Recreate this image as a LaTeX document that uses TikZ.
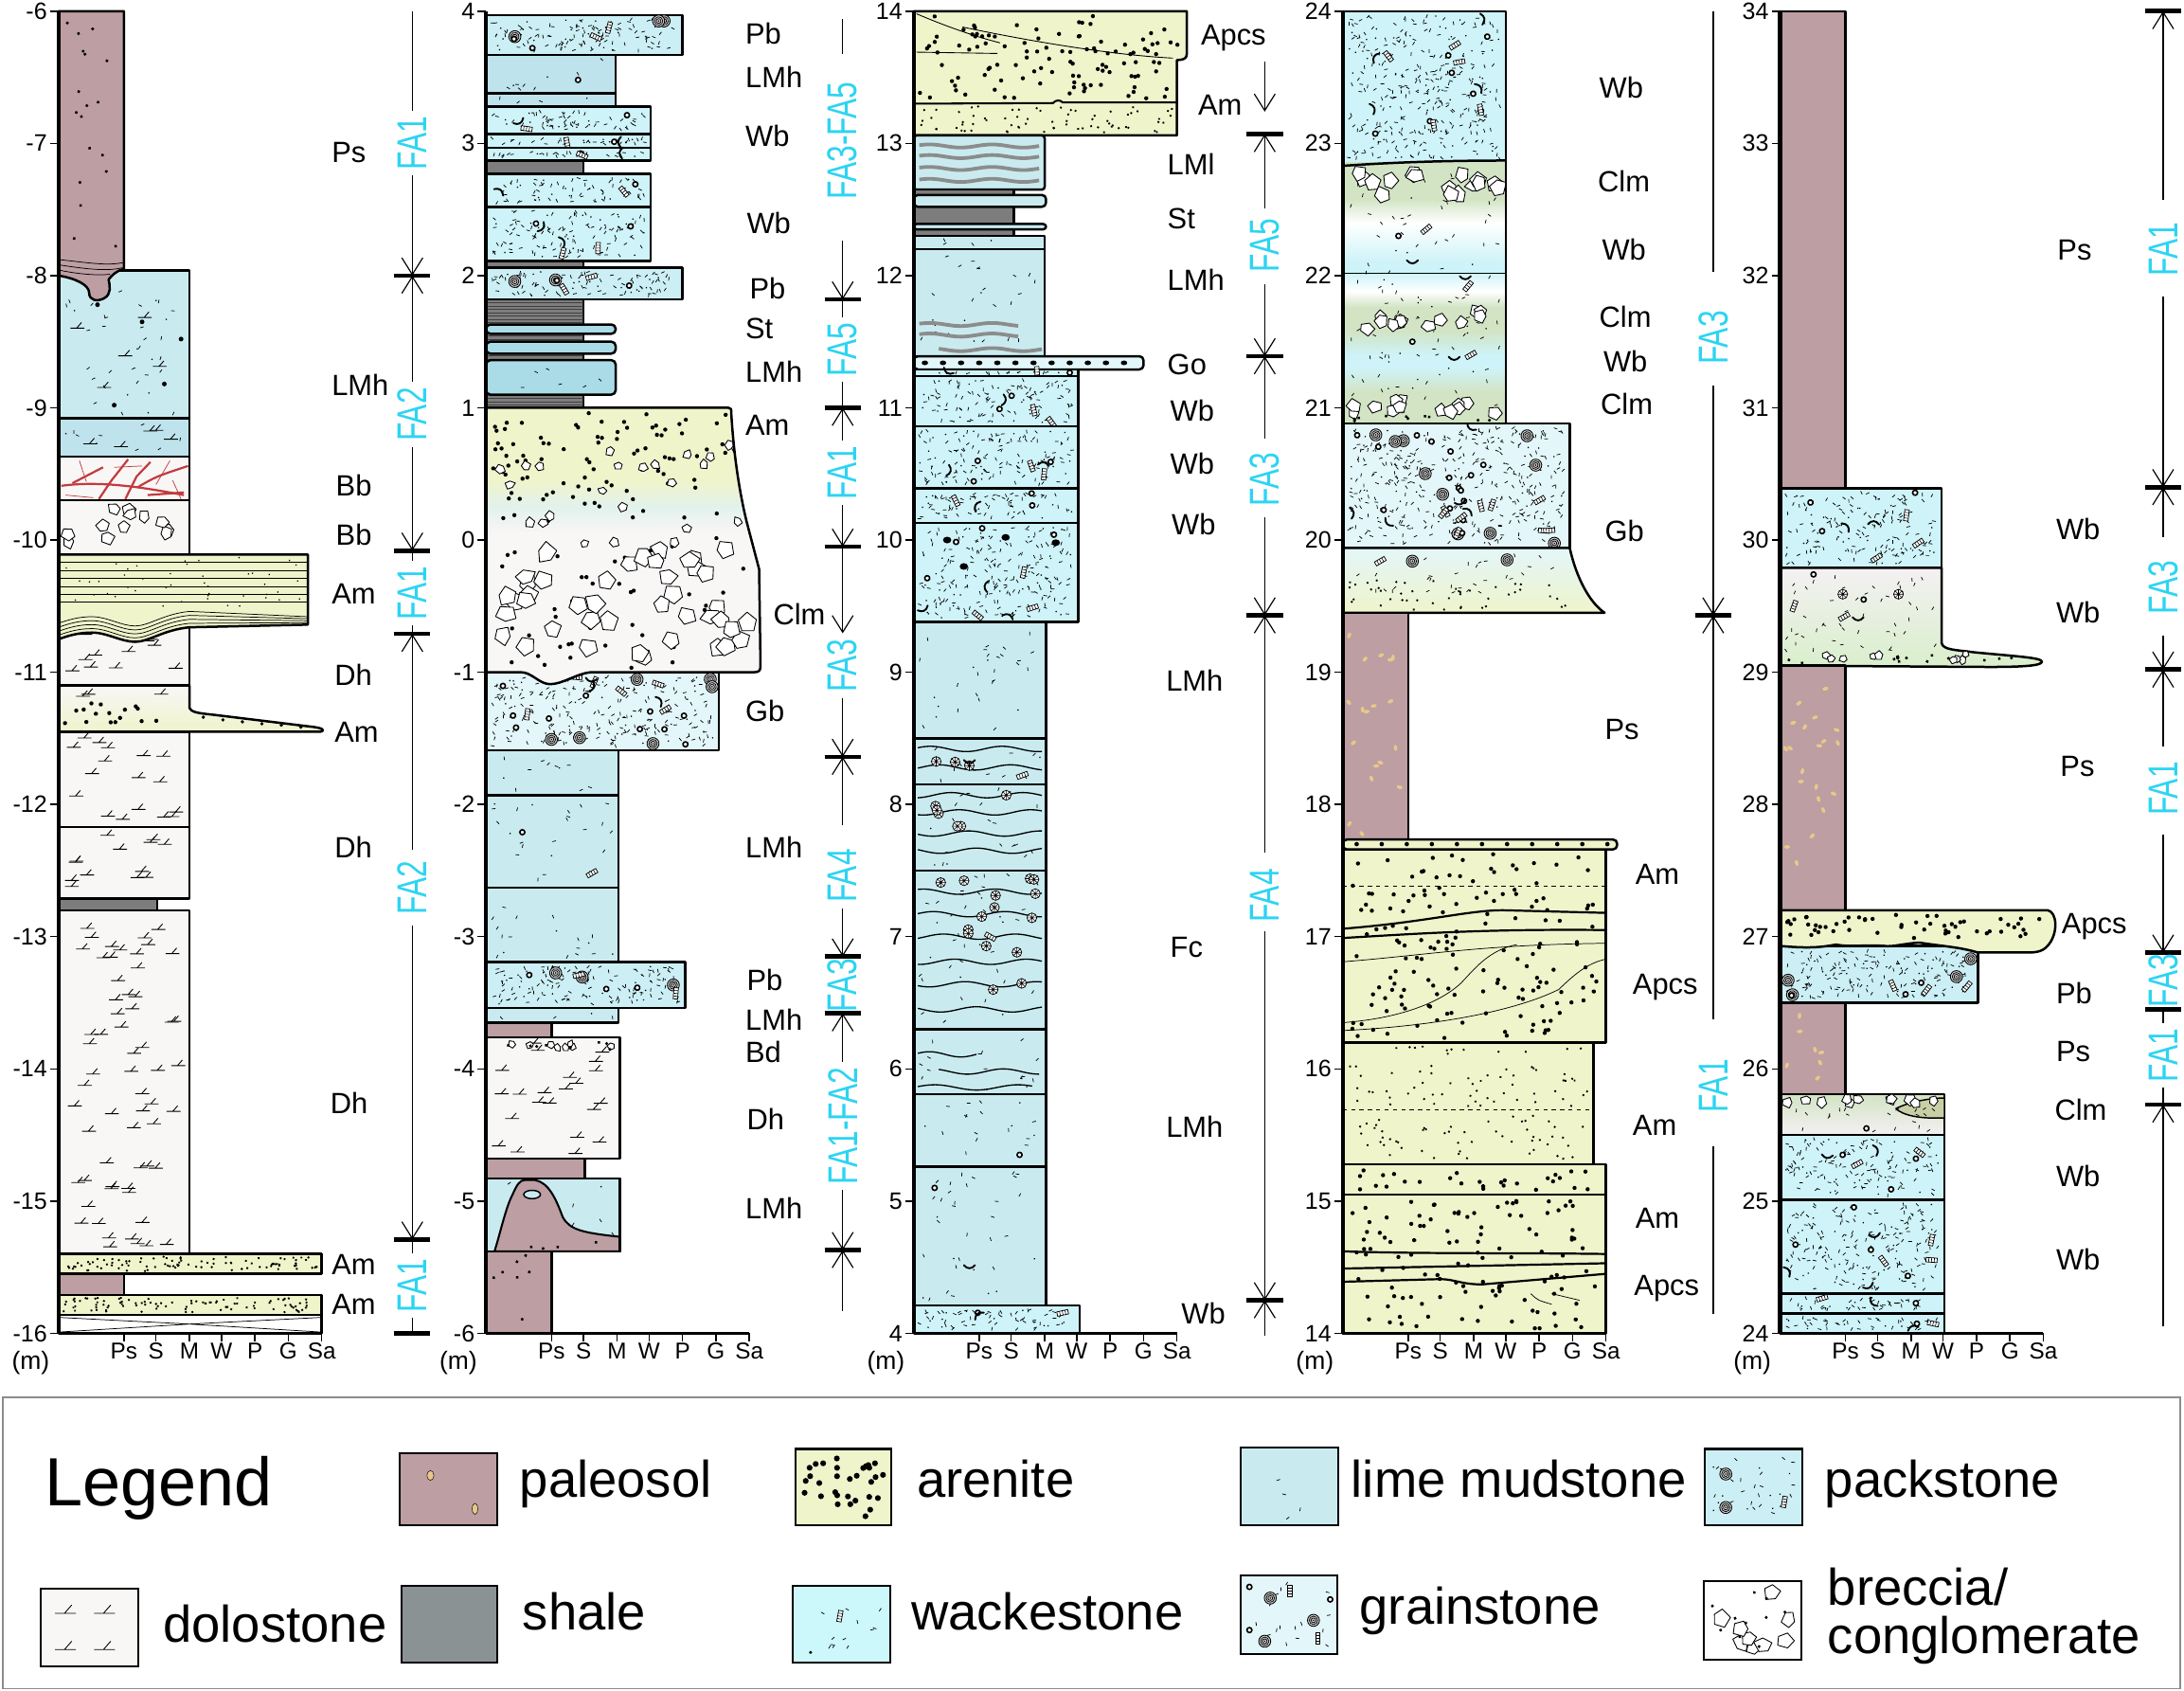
\documentclass[tikz,border=0pt]{standalone}
\usepackage{fontspec}
\setmainfont{Liberation Sans}
\newfontfamily\fafont[FakeStretch=0.72]{Liberation Sans}
\usetikzlibrary{arrows.meta}
\definecolor{paleo}{HTML}{BC9EA3}
\definecolor{aren}{HTML}{EFF4CB}
\definecolor{lmud}{HTML}{C9EBF0}
\definecolor{lmudb}{HTML}{BFE3EC}
\definecolor{lmudc}{HTML}{A9DCE6}
\definecolor{wack}{HTML}{CEF3F8}
\definecolor{pack}{HTML}{CBEFF5}
\definecolor{grain}{HTML}{E3F6F9}
\definecolor{dolo}{HTML}{F9F6F6}
\definecolor{shale}{HTML}{7D7D7D}
\definecolor{lshale}{HTML}{8A9294}
\definecolor{vein}{HTML}{C23B3E}
\definecolor{gre}{HTML}{D2E4C4}
\definecolor{olive}{HTML}{C8CFA6}
\definecolor{speckc}{HTML}{E8C889}
\definecolor{facyan}{HTML}{2DD4F2}
\definecolor{legwack}{HTML}{CCF7FB}
\definecolor{pinkw}{HTML}{F4F0F3}
\definecolor{clmmid}{HTML}{E2F2EC}
\definecolor{greb}{HTML}{D9EFCB}
\tikzset{
 lyr/.style={draw=black, line width=1.7pt, line join=round},
 axisl/.style={line width=2.8pt},
 basel/.style={line width=2.3pt},
 tickl/.style={line width=1pt},
 ticklab/.style={font=\fontsize{17}{17}\selectfont, anchor=east, inner sep=0pt},
 grainlab/.style={font=\fontsize{16.5}{17}\selectfont, inner sep=0pt},
 faclab/.style={font=\fontsize{21}{21}\selectfont, anchor=west, inner sep=0pt},
 falab/.style={font=\fafont\fontsize{30}{30}\selectfont, text=facyan, rotate=90, inner sep=0pt, outer sep=4pt},
 faline/.style={line width=0.8pt},
 faarr/.style={line width=0.8pt, -{Straight Barb[length=12pt,width=15pt]}},
 fabar/.style={line width=3.2pt},
 clastst/.style={draw=black, fill=white, line width=0.6pt, line join=round},
 legbox/.style={draw=black, line width=1.4pt},
 leglab/.style={font=\fontsize{37}{37}\selectfont, anchor=base west, inner sep=0pt},
 pdolo/.pic={\draw[line width=0.6pt] (-5pt,0pt) -- (5pt,0pt) (-0.5pt,0pt) -- (3pt,4pt);},
 pspk/.pic={\draw[line width=0.5pt] (-1.3pt,0pt) -- (1.3pt,0pt);},
 pdot/.pic={\fill (0pt,0pt) circle (0.6pt);},
 pblk/.pic={\fill (0pt,0pt) circle (1.2pt);},
 pyel/.pic={\fill[speckc] (0pt,0pt) ellipse (2.2pt and 1.3pt);},
 pnone/.pic={},
 pad/.pic={\fill (0pt,0pt) circle (1.5pt);},
 pads/.pic={\fill (0pt,0pt) circle (0.9pt);},
 plegdot/.pic={\fill (0pt,0pt) circle (2.1pt);},
 poo/.pic={\filldraw[fill=white,line width=1.1pt] (0pt,0pt) circle (1.8pt);},
 pforam/.pic={\filldraw[fill=gray!35,line width=0.6pt] (0pt,0pt) circle (4.3pt); \draw[line width=0.5pt] (0pt,0pt) circle (3pt) (0pt,0pt) circle (1.7pt); \fill (0pt,0pt) circle (0.6pt);},
 pcrin/.pic={\draw[line width=0.5pt, fill=white] (-4pt,-1.6pt) rectangle (4pt,1.6pt); \draw[line width=0.4pt] (-2pt,-1.6pt) -- (-2pt,1.6pt) (0pt,-1.6pt) -- (0pt,1.6pt) (2pt,-1.6pt) -- (2pt,1.6pt);},
 pshell/.pic={\draw[line width=1.3pt, line cap=round] (-4pt,1.5pt) .. controls (-1.5pt,-1.5pt) and (1.5pt,-1.5pt) .. (4pt,1.5pt);},
 pradf/.pic={\draw[line width=0.5pt, fill=white] (0pt,0pt) circle (3.5pt); \draw[line width=0.4pt] (-3.5pt,0pt) -- (3.5pt,0pt) (0pt,-3.5pt) -- (0pt,3.5pt) (-2.5pt,-2.5pt) -- (2.5pt,2.5pt) (-2.5pt,2.5pt) -- (2.5pt,-2.5pt);}
}
\newcommand\rpic[6]{\foreach \i in {1,...,#2}{\pic[rotate={rnd*360}] at ({(#3)+rnd*((#4)-(#3))},{(#5)+rnd*((#6)-(#5))}) {#1};}}
\newcommand\rpicn[6]{\foreach \i in {1,...,#2}{\pic at ({(#3)+rnd*((#4)-(#3))},{(#5)+rnd*((#6)-(#5))}) {#1};}}
\newcommand\rclast[6]{\foreach \i in {1,...,#1}{\pgfmathsetmacro\ra{rnd*70}\begin{scope}[shift={({(#3)+rnd*((#4)-(#3))},{(#5)+rnd*((#6)-(#5))})},x=1pt,y=1pt]\draw[clastst] (\ra:{#2*(0.7+0.5*rnd)}) -- ({\ra+72}:{#2*(0.7+0.5*rnd)}) -- ({\ra+144}:{#2*(0.7+0.5*rnd)}) -- ({\ra+216}:{#2*(0.7+0.5*rnd)}) -- ({\ra+288}:{#2*(0.7+0.5*rnd)}) -- cycle;\end{scope}}}
\newcommand\fillsyms[5]{\pgfmathtruncatemacro\cnt{max(1,round(((#1)-8)/(#5)*((#2)-(#3))*94.9))}\rpic{#4}{\cnt}{4}{(#1)-4}{(#3)+0.03}{(#2)-0.03}}
\newcommand\Lmud[4][lmud]{\filldraw[lyr,fill=#1] (0,#4) rectangle (#2,#3);\fillsyms{#2}{#3}{#4}{pspk}{320}\fillsyms{#2}{#3}{#4}{pdot}{1200}}
\newcommand\Wack[3]{\filldraw[lyr,fill=wack] (0,#3) rectangle (#1,#2);\fillsyms{#1}{#2}{#3}{pspk}{45}\fillsyms{#1}{#2}{#3}{pdot}{160}\fillsyms{#1}{#2}{#3}{poo}{1800}\fillsyms{#1}{#2}{#3}{pcrin}{2400}\fillsyms{#1}{#2}{#3}{pshell}{2800}}
\newcommand\Pack[3]{\filldraw[lyr,fill=pack] (0,#3) rectangle (#1,#2);\fillsyms{#1}{#2}{#3}{pspk}{40}\fillsyms{#1}{#2}{#3}{pdot}{140}\fillsyms{#1}{#2}{#3}{pforam}{1500}\fillsyms{#1}{#2}{#3}{poo}{1600}\fillsyms{#1}{#2}{#3}{pcrin}{2000}}
\newcommand\Grain[3]{\filldraw[lyr,fill=grain] (0,#3) rectangle (#1,#2);\fillsyms{#1}{#2}{#3}{pspk}{45}\fillsyms{#1}{#2}{#3}{pdot}{160}\fillsyms{#1}{#2}{#3}{pforam}{1400}\fillsyms{#1}{#2}{#3}{poo}{900}\fillsyms{#1}{#2}{#3}{pcrin}{1600}\fillsyms{#1}{#2}{#3}{pshell}{2600}}
\newcommand\Dolo[3]{\filldraw[lyr,fill=dolo] (0,#3) rectangle (#1,#2);\pgfmathtruncatemacro\cnt{max(1,round(((#1)-12)/330*((#2)-(#3))*94.9))}\rpicn{pdolo}{\cnt}{8}{(#1)-8}{(#3)+0.04}{(#2)-0.04}}
\newcommand\Paleo[4][pblk]{\filldraw[lyr,fill=paleo] (0,#4) rectangle (#2,#3);\fillsyms{#2}{#3}{#4}{#1}{350}}
\newcommand\Shale[3]{\filldraw[lyr,fill=shale] (0,#3) rectangle (#1,#2);}
\newcommand\colaxis[3]{%
 \foreach \t in {#2,...,#3}{\draw[tickl] (-6,\t) -- (0,\t); \node[ticklab] (#1n\t) at (-8,\t) {\t};}
 \draw[basel] (0,#2) -- (189,#2);
 \foreach \g/\n in {47/Ps,70/S,94/M,117/W,141/P,165/G,189/Sa}{\draw[tickl] (\g,#2) -- ++(0pt,-6pt); \node[grainlab] (#1g\n) at ([yshift=-13pt]\g,#2) {\n};}
 \draw[axisl] (0,#3) -- (0,#2);
 \node[grainlab, font=\fontsize{18}{18}\selectfont] (#1m) at ([yshift=-21pt]-20,#2) {(m)};}
\newcommand\fabarat[3]{\coordinate (#1) at (#2,#3); \draw[fabar] ([xshift=-13pt]#1) -- ([xshift=13pt]#1);}
\newcommand\falabel[4]{\node[falab] (#1) at (#2,#3) {#4};}
\newcommand\lab[4]{\node[faclab] (#1) at (#2,#3) {#4};}
\begin{document}
\begin{tikzpicture}[x=1pt,y=-1pt]
\pgfmathsetseed{11}
\useasboundingbox (0,0) rectangle (1568,1213.7);
%================ COLUMN 1
\begin{scope}[shift={(42pt,561.4pt)},x=1pt,y=94.9pt]
\Lmud{94}{-7.96}{-9.08}
\rpicn{pdolo}{5}{10}{85}{-8.9}{-8.2}
\foreach \p in {(28,-8.22),(88,-8.48),(76,-8.82),(40,-8.98),(60,-8.35)}{\fill \p circle (1.7pt);}
\Lmud[lmudb]{94}{-9.08}{-9.37}
\rpicn{pdolo}{5}{10}{85}{-9.32}{-9.14}
\filldraw[lyr,fill=dolo] (0,-9.70) rectangle (94,-9.37);
\begin{scope}
\clip (0,-9.70) rectangle (94,-9.37);
\draw[vein,line width=1.5pt] (2,-9.59) .. controls (30,-9.55) and (60,-9.60) .. (90,-9.66);
\draw[vein,line width=1.5pt] (29,-9.69) -- (38,-9.55) -- (50,-9.39) (48,-9.69) -- (56,-9.52) -- (66,-9.41) (57,-9.60) .. controls (70,-9.52) .. (93,-9.44) (10,-9.57) -- (32,-9.45) (64,-9.66) -- (90,-9.64);
\draw[vein,line width=0.5pt] (15,-9.40) -- (20,-9.56) (70,-9.58) -- (80,-9.40) (5,-9.66) -- (25,-9.68) (40,-9.45) -- (60,-9.44) (82,-9.55) -- (88,-9.69);
\end{scope}
\draw[lyr] (0,-9.70) rectangle (94,-9.37);
\filldraw[lyr,fill=dolo] (0,-10.11) rectangle (94,-9.70);
\rclast{12}{5}{7}{87}{-10.05}{-9.76}
\Dolo{94}{-10.65}{-11.10}
\filldraw[lyr,fill=aren] (0,-10.11) -- (179,-10.11) -- (179,-10.64) -- (94,-10.66) .. controls (75,-10.68) and (65,-10.77) .. (55,-10.77) .. controls (45,-10.77) and (35,-10.70) .. (24,-10.70) .. controls (15,-10.70) and (8,-10.72) .. (0,-10.75) -- cycle;
\foreach \k in {-10.17,-10.23,-10.29,-10.35,-10.41,-10.47}{\draw[line width=0.5pt] (0,\k) -- (179,\k);}
\foreach \k in {0.03,0.06,0.09,0.12}{\draw[line width=0.5pt] (0,{-10.75+\k}) .. controls (8,{-10.72+\k}) and (15,{-10.70+\k}) .. (24,{-10.70+\k}) .. controls (35,{-10.70+\k}) and (45,{-10.77+\k}) .. (55,{-10.77+\k}) .. controls (65,{-10.77+\k}) and (75,{-10.68+\k}) .. (94,{-10.66+\k}) -- (179,{-10.64+0.5*\k});}
\rpic{pdot}{45}{3}{175}{-10.5}{-10.13}
\draw[lyr, top color=dolo, bottom color=aren] (0,-11.10) -- (94,-11.10) -- (94,-11.27) .. controls (95,-11.30) and (100,-11.31) .. (110,-11.32) -- (180,-11.41) .. controls (190,-11.42) and (192,-11.44) .. (188,-11.45) -- (0,-11.45) -- cycle;
\rpic{pad}{16}{4}{90}{-11.42}{-11.22}
\rpicn{pdolo}{3}{10}{85}{-11.2}{-11.14}
\foreach \p in {(104,-11.34),(118,-11.36),(132,-11.375),(146,-11.39),(160,-11.40),(174,-11.415)}{\fill \p circle (1.3pt);}
\Dolo{94}{-11.45}{-12.17}
\Dolo{94}{-12.17}{-12.71}
\Shale{71}{-12.71}{-12.80}
\Dolo{94}{-12.80}{-15.40}
\filldraw[lyr,fill=aren] (0,-15.55) rectangle (189,-15.40);
\rpic{pads}{95}{3}{186}{-15.53}{-15.42}
\Paleo[pnone]{47}{-15.55}{-15.71}
\filldraw[lyr,fill=aren] (0,-15.86) rectangle (189,-15.71);
\rpic{pads}{95}{3}{186}{-15.84}{-15.73}
\filldraw[lyr,fill=white] (0,-16) rectangle (189,-15.86);
\draw[line width=0.5pt] (1,-15.88) -- (94,-15.93) -- (188,-15.88) (1,-15.99) -- (94,-15.93) -- (188,-15.99);
\filldraw[lyr,fill=paleo] (0,-6) -- (47,-6) -- (47,-7.95) .. controls (42,-7.96) and (38,-8.0) .. (36,-8.03) .. controls (37,-8.08) and (38,-8.14) .. (33,-8.17) .. controls (28,-8.2) and (22,-8.19) .. (22,-8.13) .. controls (22,-8.07) and (12,-8.02) .. (0,-8.0) -- cycle;
\rpic{pblk}{18}{5}{42}{-7.8}{-6.05}
\draw[line width=0.5pt] (1,-7.88) .. controls (20,-7.9) and (35,-7.93) .. (47,-7.9) (1,-7.92) .. controls (20,-7.95) and (35,-7.97) .. (46,-7.94) (1,-7.96) .. controls (15,-7.99) and (28,-8.0) .. (37,-7.99);
\colaxis{c1}{-16}{-6}
\lab{c1l1}{196}{-7.07}{Ps}
\lab{c1l2}{196}{-8.83}{LMh}
\lab{c1l3}{199}{-9.59}{Bb}
\lab{c1l4}{199}{-9.96}{Bb}
\lab{c1l5}{196}{-10.41}{Am}
\lab{c1l6}{198}{-11.02}{Dh}
\lab{c1l7}{198}{-11.45}{Am}
\lab{c1l8}{198}{-12.32}{Dh}
\lab{c1l9}{195}{-14.26}{Dh}
\lab{c1l10}{196}{-15.48}{Am}
\lab{c1l11}{196}{-15.78}{Am}
\coordinate (c1t) at (254,-6.0);
\falabel{c1f1}{254}{-7.0}{FA1}
\fabarat{c1b1}{254}{-8.0}
\draw[faline] (c1t) -- (c1f1);
\draw[faarr] (c1f1) -- (c1b1);
\falabel{c1f2}{254}{-9.05}{FA2}
\fabarat{c1b2}{254}{-10.08}
\draw[faarr] (c1f2) -- (c1b1);
\draw[faarr] (c1f2) -- (c1b2);
\falabel{c1f3}{254}{-10.40}{FA1}
\fabarat{c1b3}{254}{-10.71}
\draw[faline] (c1f3) -- (c1b2);
\draw[faline] (c1f3) -- (c1b3);
\falabel{c1f4}{254}{-12.63}{FA2}
\fabarat{c1b4}{254}{-15.29}
\draw[faarr, shorten <=4pt] (c1f4) -- (c1b3);
\draw[faarr, shorten <=4pt] (c1f4) -- (c1b4);
\falabel{c1f5}{254}{-15.64}{FA1}
\fabarat{c1b5}{254}{-16.0}
\draw[faline] (c1f5) -- (c1b4);
\draw[faline] (c1f5) -- (c1b5);
\end{scope}
%================ COLUMN 2
\begin{scope}[shift={(349pt,-387.6pt)},x=1pt,y=94.9pt]
\Pack{141}{3.97}{3.67}
\Lmud[lmudb]{93}{3.67}{3.38}
\pic at (66,3.48) {poo};
\Lmud[lmudb]{93}{3.38}{3.28}
\Wack{118}{3.28}{3.07}
\Wack{118}{3.07}{2.965}
\Wack{118}{2.965}{2.87}
\Shale{70}{2.87}{2.77}
\Wack{118}{2.77}{2.52}
\Wack{118}{2.52}{2.11}
\Shale{70}{2.11}{2.06}
\Pack{141}{2.06}{1.82}
\filldraw[lyr,fill=shale] (0,1.0) rectangle (70,1.82);
\foreach \k in {1.02,1.045,...,1.80}{\draw[line width=0.4pt, black!75] (0,\k) -- (70,\k);}
\filldraw[lyr,fill=lmudc,rounded corners=3pt] (0,1.56) rectangle (93,1.63);
\filldraw[lyr,fill=lmudc,rounded corners=3pt] (0,1.41) rectangle (93,1.50);
\filldraw[lyr,fill=lmudc,rounded corners=3pt] (0,1.10) rectangle (93,1.36);
\rpic{pspk}{6}{5}{88}{1.15}{1.32}
\draw[axisl] (0,1.0) -- (0,1.82);
\Grain{167}{-1.0}{-1.59}
\begin{scope}
\clip (0,1.0) -- (174,1.0) .. controls (176,1.0) and (176,0.99) .. (176,0.96) .. controls (178,0.6) and (183,0.3) .. (188,0.1) -- (196,-0.22) -- (197,-0.95) .. controls (197,-0.99) and (196,-1.0) .. (192,-1.0) -- (75,-1.0) .. controls (65,-1.01) and (55,-1.09) .. (46,-1.09) .. controls (38,-1.09) and (33,-1.0) .. (25,-1.0) -- (0,-1.0) -- cycle;
\fill[dolo] (0,-1.1) rectangle (200,1.0);
\fill[aren] (0,0.45) rectangle (200,1.0);
\shade[top color=aren, bottom color=dolo, middle color=clmmid] (0,0.05) rectangle (200,0.45);
\rpic{pad}{90}{5}{172}{0.15}{0.96}
\rpic{pad}{45}{5}{192}{-0.97}{0.15}
\rclast{24}{3.5}{8}{182}{-0.05}{0.72}
\rclast{42}{7}{10}{190}{-0.93}{-0.05}
\end{scope}
\draw[lyr] (0,1.0) -- (174,1.0) .. controls (176,1.0) and (176,0.99) .. (176,0.96) .. controls (178,0.6) and (183,0.3) .. (188,0.1) -- (196,-0.22) -- (197,-0.95) .. controls (197,-0.99) and (196,-1.0) .. (192,-1.0) -- (75,-1.0) .. controls (65,-1.01) and (55,-1.09) .. (46,-1.09) .. controls (38,-1.09) and (33,-1.0) .. (25,-1.0) -- (0,-1.0);
\Lmud{95}{-1.59}{-1.93}
\Lmud{95}{-1.93}{-2.63}
\pic at (26,-2.21) {poo};
\pic[rotate=30] at (76,-2.52) {pcrin};
\Lmud{95}{-2.63}{-3.19}
\Pack{143}{-3.19}{-3.54}
\Lmud{95}{-3.54}{-3.65}
\Paleo[pnone]{47}{-3.65}{-3.76}
\Dolo{96}{-3.76}{-4.68}
\rclast{8}{2.8}{8}{90}{-3.84}{-3.80}
\rpic{pblk}{8}{4}{90}{-3.86}{-3.80}
\Paleo[pnone]{71}{-4.68}{-4.83}
\Lmud{96}{-4.83}{-5.38}
\filldraw[line width=1.4pt, fill=paleo] (6,-5.38) .. controls (10,-5.25) and (14,-5.05) .. (19,-4.95) .. controls (22,-4.88) and (24,-4.84) .. (28,-4.84) -- (35,-4.84) .. controls (45,-4.86) and (50,-4.98) .. (55,-5.12) .. controls (60,-5.22) and (70,-5.24) .. (96,-5.27) -- (96,-5.38) -- cycle;
\filldraw[line width=1pt, fill=lmud] (33,-4.95) ellipse (6pt and 3pt);
\rpic{pblk}{4}{30}{90}{-5.36}{-5.30}
\draw[lyr] (0,-5.38) rectangle (96,-4.83);
\Paleo{47}{-5.38}{-6.0}
\colaxis{c2}{-6}{4}
\lab{c2l1}{186}{3.83}{Pb}
\lab{c2l2}{186}{3.50}{LMh}
\lab{c2l3}{186}{3.06}{Wb}
\lab{c2l4}{187}{2.40}{Wb}
\lab{c2l5}{189}{1.90}{Pb}
\lab{c2l6}{186}{1.60}{St}
\lab{c2l7}{186}{1.27}{LMh}
\lab{c2l8}{186}{0.87}{Am}
\lab{c2l9}{206}{-0.56}{Clm}
\lab{c2l10}{186}{-1.29}{Gb}
\lab{c2l11}{186}{-2.32}{LMh}
\lab{c2l12}{187}{-3.33}{Pb}
\lab{c2l13}{186}{-3.63}{LMh}
\lab{c2l14}{186}{-3.87}{Bd}
\lab{c2l15}{187}{-4.38}{Dh}
\lab{c2l16}{186}{-5.05}{LMh}
\coordinate (c2t) at (256,3.94);
\falabel{c2f1}{256}{3.02}{FA3-FA5}
\draw[faline, shorten >=16pt] (c2t) -- (c2f1);
\fabarat{c2b1}{256}{1.82}
\draw[faarr, shorten <=26pt] (c2f1) -- (c2b1);
\falabel{c2f2}{256}{1.44}{FA5}
\fabarat{c2b2}{256}{1.0}
\draw[faline] (c2f2) -- (c2b1);
\draw[faline] (c2f2) -- (c2b2);
\falabel{c2f3}{256}{0.51}{FA1}
\fabarat{c2b3}{256}{-0.05}
\draw[faarr] (c2f3) -- (c2b2);
\draw[faarr] (c2f3) -- (c2b3);
\falabel{c2f4}{256}{-0.95}{FA3}
\fabarat{c2b4}{256}{-1.64}
\draw[faarr] (c2b3) -- (c2f4);
\draw[faarr] (c2f4) -- (c2b4);
\falabel{c2f5}{256}{-2.54}{FA4}
\fabarat{c2b5}{256}{-3.15}
\draw[faarr, shorten <=13pt] (c2f5) -- (c2b4);
\draw[faarr] (c2f5) -- (c2b5);
\falabel{c2f6}{256}{-3.37}{FA3}
\fabarat{c2b6}{256}{-3.58}
\falabel{c2f7}{256}{-4.43}{FA1-FA2}
\fabarat{c2b7}{256}{-5.37}
\draw[faarr] (c2f7) -- (c2b6);
\draw[faarr] (c2f7) -- (c2b7);
\coordinate (c2e) at (256,-5.83);
\draw[faarr] (c2e) -- (c2b7);
\end{scope}
%================ COLUMN 3
\begin{scope}[shift={(656pt,-1336.6pt)},x=1pt,y=94.9pt]
\filldraw[lyr,fill=aren] (0,13.06) -- (0,14.0) -- (196,14.0) -- (196,13.67) .. controls (196,13.64) and (193,13.63) .. (189,13.63) -- (189,13.06) -- cycle;
\rpic{pad}{110}{4}{190}{13.34}{13.97}
\rpic{pads}{70}{4}{186}{13.08}{13.28}
\draw[line width=0.6pt] (2,13.98) .. controls (20,13.9) and (40,13.82) .. (62,13.76);
\draw[line width=0.6pt] (35,13.88) .. controls (80,13.78) and (140,13.67) .. (186,13.645);
\draw[line width=0.6pt] (2,13.69) -- (60,13.68);
\draw[line width=1.4pt] (0,13.30) -- (100,13.305) .. controls (102,13.33) and (105,13.33) .. (107,13.31) -- (189,13.31);
\filldraw[lyr,fill=lmud,rounded corners=2pt] (0,12.65) rectangle (94,13.06);
\foreach \k in {12.98,12.90,12.81,12.72}{\draw[line width=2.6pt, color=gray!90] plot[smooth, domain=4:90, samples=20] (\x,{\k+0.012*sin(\x*8)});}
\Shale{72}{12.65}{12.30}
\filldraw[lyr,fill=lmud,rounded corners=3pt] (0,12.52) rectangle (95,12.61);
\filldraw[lyr,fill=lmud,rounded corners=2pt] (0,12.35) rectangle (95,12.39);
\Lmud{94}{12.30}{12.20}
\Lmud{94}{12.20}{11.39}
\draw[line width=2.6pt, color=gray!90] plot[smooth, domain=4:75, samples=15] (\x,{11.63+0.012*sin(\x*8)});
\draw[line width=2.6pt, color=gray!90] plot[smooth, domain=4:75, samples=15] (\x,{11.55+0.012*sin(\x*8)});
\draw[line width=2.6pt, color=gray!90] plot[smooth, domain=18:92, samples=15] (\x,{11.44+0.012*sin(\x*8)});
\filldraw[lyr,fill=grain,rounded corners=3pt] (0,11.29) rectangle (165,11.39);
\foreach \xx in {8,21,...,160}{\fill (\xx,11.34) ellipse (2.3pt and 1.7pt);}
\Wack{118}{11.29}{11.24}
\Wack{118}{11.24}{10.86}
\Wack{118}{10.86}{10.39}
\Wack{118}{10.39}{10.13}
\Wack{118}{10.13}{9.38}
\foreach \p in {(24,10.0),(66,10.02),(102,9.98),(36,9.8)}{\fill \p ellipse (3pt and 2.4pt);}
\Lmud{95}{9.38}{8.50}
\Lmud{95}{8.50}{8.15}
\Lmud{95}{8.15}{7.50}
\Lmud{95}{7.50}{6.30}
\foreach \k in {8.42,8.28,8.07,7.94,7.78,7.65,7.34,7.17,7.0,6.81,6.64,6.45}{\draw[line width=0.9pt] plot[smooth,domain=3:92,samples=25] (\x,{\k+0.02*sin(\x*7+\k*300)});}
\rpicn{pradf}{3}{8}{88}{8.2}{8.45}
\rpicn{pradf}{6}{8}{88}{7.55}{8.1}
\rpicn{pradf}{15}{8}{88}{6.35}{7.45}
\pic[rotate=20] at (78,8.22) {pcrin};
\pic[rotate=-30] at (55,7.0) {pcrin};
\pic at (40,8.32) {pshell};
\Lmud{95}{6.30}{5.81}
\draw[line width=0.9pt] plot[smooth,domain=3:45,samples=12] (\x,{6.11+0.02*sin(\x*8)});
\draw[line width=0.9pt] plot[smooth,domain=18:90,samples=20] (\x,{5.98+0.02*sin(\x*7)});
\draw[line width=0.9pt] plot[smooth,domain=3:85,samples=20] (\x,{5.86+0.02*sin(\x*6)});
\Lmud{95}{5.81}{5.26}
\Lmud{95}{5.26}{4.21}
\pic at (15,5.1) {poo};
\pic at (76,5.35) {poo};
\pic at (40,4.5) {pshell};
\Wack{119}{4.21}{4.0}
\colaxis{c3}{4}{14}
\lab{c3l1}{206}{13.80}{Apcs}
\lab{c3l2}{204}{13.29}{Am}
\lab{c3l3}{182}{12.84}{LMl}
\lab{c3l4}{182}{12.43}{St}
\lab{c3l5}{182}{11.97}{LMh}
\lab{c3l6}{182}{11.33}{Go}
\lab{c3l7}{184}{10.98}{Wb}
\lab{c3l8}{184}{10.58}{Wb}
\lab{c3l9}{185}{10.12}{Wb}
\lab{c3l10}{181}{8.94}{LMh}
\lab{c3l11}{184}{6.92}{Fc}
\lab{c3l12}{181}{5.56}{LMh}
\lab{c3l13}{192}{4.15}{Wb}
\coordinate (c3a) at (252,13.62);
\coordinate (c3a2) at (252,13.24);
\draw[faarr] (c3a) -- (c3a2);
\fabarat{c3b1}{252}{13.07}
\falabel{c3f1}{252}{12.23}{FA5}
\fabarat{c3b2}{252}{11.39}
\draw[faarr, shorten <=3pt] (c3f1) -- (c3b1);
\draw[faarr, shorten <=5pt] (c3f1) -- (c3b2);
\falabel{c3f2}{252}{10.46}{FA3}
\fabarat{c3b3}{252}{9.43}
\draw[faarr, shorten <=6pt] (c3f2) -- (c3b2);
\draw[faarr, shorten <=4pt] (c3f2) -- (c3b3);
\falabel{c3f3}{252}{7.31}{FA4}
\fabarat{c3b4}{252}{4.25}
\draw[faarr, shorten <=8pt] (c3f3) -- (c3b3);
\draw[faarr, shorten <=2pt] (c3f3) -- (c3b4);
\coordinate (c3e) at (252,3.98);
\draw[faarr] (c3e) -- (c3b4);
\end{scope}
%================ COLUMN 4
\begin{scope}[shift={(964pt,-2285.6pt)},x=1pt,y=94.9pt]
\Wack{117}{24.0}{22.85}
\begin{scope}
\clip (0,20.88) rectangle (117,22.86);
\fill[wack] (0,20.88) rectangle (117,22.86);
\fill[gre] (0,22.58) rectangle (117,22.86);
\shade[top color=gre,bottom color=white] (0,22.40) rectangle (117,22.58);
\shade[top color=white,bottom color=wack] (0,22.10) rectangle (117,22.40);
\shade[top color=wack,bottom color=white] (0,21.88) rectangle (117,22.02);
\shade[top color=white,bottom color=gre] (0,21.76) rectangle (117,21.88);
\fill[gre] (0,21.58) rectangle (117,21.76);
\shade[top color=gre,bottom color=wack] (0,21.40) rectangle (117,21.58);
\shade[top color=wack,bottom color=gre] (0,21.12) rectangle (117,21.30);
\fill[gre] (0,20.88) rectangle (117,21.12);
\end{scope}
\rpic{pspk}{90}{4}{113}{20.95}{22.8}
\rpic{pdot}{25}{4}{113}{20.95}{22.8}
\pic at (40,22.3) {poo}; \pic at (50,21.5) {poo};
\pic[rotate=40] at (60,22.35) {pcrin}; \pic[rotate=30] at (92,21.4) {pcrin}; \pic[rotate=50] at (90,21.92) {pcrin};
\pic at (50,22.1) {pshell}; \pic at (88,21.98) {pshell}; \pic at (80,21.37) {pshell};
\rclast{16}{6}{6}{112}{22.60}{22.78}
\rclast{12}{5}{6}{112}{21.60}{21.74}
\rclast{13}{5}{6}{112}{20.95}{21.06}
\rpic{pblk}{10}{4}{112}{20.90}{20.94}
\draw[line width=0.5pt] (0,22.02) -- (117,22.02);
\draw[lyr] (117,22.87) -- (117,20.88) -- (0,20.88);
\draw[lyr] (0,22.83) .. controls (40,22.86) and (80,22.87) .. (117,22.87);
\Grain{163}{20.88}{19.94}
\draw[lyr, top color=grain, bottom color=aren] (0,19.94) -- (163,19.94) .. controls (168,19.7) and (178,19.52) .. (188,19.45) -- (0,19.45) -- cycle;
\rpic{pads}{45}{4}{160}{19.47}{19.7}
\rpic{pspk}{30}{4}{160}{19.6}{19.9}
\pic at (50,19.84) {pforam}; \pic at (118,19.85) {pforam}; \pic[rotate=30] at (27,19.84) {pcrin};
\Paleo[pyel]{47}{19.45}{17.73}
\filldraw[lyr,fill=aren] (0,16.20) rectangle (189,17.66);
\draw[line width=0.5pt, dashed] (0,17.38) -- (189,17.38);
\draw[line width=1.5pt] (0,17.06) .. controls (60,17.11) and (90,17.2) .. (115,17.2) -- (189,17.18);
\draw[line width=1.5pt] (0,16.99) .. controls (50,17.02) and (100,17.06) .. (189,17.05);
\draw[line width=0.5pt] (0,16.81) .. controls (60,16.86) and (100,16.94) .. (189,16.95);
\draw[line width=0.5pt] (0,16.35) .. controls (40,16.38) and (70,16.5) .. (85,16.65) .. controls (95,16.76) and (105,16.9) .. (125,16.94);
\draw[line width=0.5pt] (0,16.29) .. controls (60,16.32) and (120,16.42) .. (155,16.6) .. controls (165,16.7) and (175,16.8) .. (189,16.83);
\rpic{pad}{160}{4}{185}{16.23}{17.63}
\filldraw[lyr,fill=aren,rounded corners=3pt] (0,17.66) rectangle (197,17.735);
\foreach \xx in {10,28,...,190}{\fill (\xx,17.70) circle (1.6pt);}
\filldraw[lyr,fill=aren] (0,15.28) rectangle (180,16.20);
\rpic{pads}{120}{4}{176}{15.31}{16.17}
\draw[line width=0.5pt, dashed] (0,15.69) -- (180,15.69);
\filldraw[lyr,fill=aren] (0,15.05) rectangle (189,15.28);
\rpic{pad}{28}{4}{185}{15.08}{15.25}
\filldraw[lyr,fill=aren] (0,14.0) rectangle (189,15.05);
\draw[line width=1.5pt] (0,14.62) .. controls (60,14.6) and (120,14.61) .. (189,14.60);
\draw[line width=1.5pt] (0,14.49) -- (189,14.53);
\draw[line width=1.5pt] (0,14.39) -- (70,14.41) .. controls (80,14.41) and (85,14.37) .. (100,14.37) -- (189,14.45);
\draw[line width=0.5pt] (150,14.3) -- (170,14.25) (135,14.3) .. controls (140,14.25) .. (150,14.22);
\rpic{pad}{115}{4}{185}{14.03}{15.02}
\colaxis{c4}{14}{24}
\lab{c4l1}{184}{23.42}{Wb}
\lab{c4l2}{183}{22.71}{Clm}
\lab{c4l3}{186}{22.20}{Wb}
\lab{c4l4}{184}{21.69}{Clm}
\lab{c4l5}{187}{21.35}{Wb}
\lab{c4l6}{185}{21.03}{Clm}
\lab{c4l7}{188}{20.07}{Gb}
\lab{c4l8}{188}{18.57}{Ps}
\lab{c4l9}{210}{17.47}{Am}
\lab{c4l10}{208}{16.62}{Apcs}
\lab{c4l11}{208}{15.57}{Am}
\lab{c4l12}{210}{14.87}{Am}
\lab{c4l13}{209}{14.34}{Apcs}
\coordinate (c4t) at (266,24.0);
\falabel{c4f1}{266}{21.53}{FA3}
\fabarat{c4b1}{266}{19.43}
\draw[faline, shorten >=24pt] (c4t) -- (c4f1);
\draw[faarr, shorten <=11pt] (c4f1) -- (c4b1);
\falabel{c4f2}{266}{15.87}{FA1}
\draw[faarr, shorten <=25pt] (c4f2) -- (c4b1);
\coordinate (c4e) at (266,14.15);
\draw[faline, shorten <=20pt] (c4f2) -- (c4e);
\end{scope}
%================ COLUMN 5
\begin{scope}[shift={(1278pt,-3234.6pt)},x=1pt,y=94.9pt]
\filldraw[lyr,fill=paleo] (0,30.39) rectangle (47,34.0);
\Wack{116}{30.39}{29.79}
\draw[lyr, top color=pinkw, bottom color=greb] (0,29.79) -- (116,29.79) -- (116,29.22) .. controls (117,29.17) and (125,29.17) .. (140,29.15) .. controls (170,29.12) and (188,29.11) .. (188,29.08) .. controls (188,29.05) and (175,29.04) .. (150,29.04) -- (0,29.05) -- cycle;
\rpic{pspk}{50}{4}{112}{29.15}{29.75}
\pic at (45,29.59) {pradf}; \pic at (85,29.59) {pradf};
\pic at (24,29.74) {poo}; \pic at (60,29.55) {poo};
\pic[rotate=70] at (10,29.5) {pcrin}; \pic[rotate=30] at (46,29.42) {pcrin};
\pic at (56,29.4) {pshell};
\rclast{9}{3}{6}{150}{29.08}{29.14}
\rpic{pblk}{14}{6}{180}{29.07}{29.13}
\Paleo[pyel]{47}{29.05}{27.2}
\Pack{142}{26.93}{26.5}
\filldraw[lyr,fill=aren] (0,27.2) -- (192,27.2) .. controls (199,27.19) and (200,27.02) .. (192,26.93) .. controls (188,26.88) and (182,26.88) .. (176,26.88) -- (142,26.88) .. controls (130,26.92) and (115,26.93) .. (100,26.955) .. controls (90,26.95) and (80,26.92) .. (75,26.93) .. controls (60,26.94) and (50,26.92) .. (40,26.94) .. controls (30,26.92) and (20,26.91) .. (0,26.93) -- cycle;
\rpic{pad}{55}{4}{188}{26.99}{27.17}
\Paleo[pyel]{47}{26.5}{25.81}
\draw[lyr, top color=gre, bottom color=pinkw] (0,25.50) rectangle (118,25.81);
\filldraw[line width=1pt, fill=olive] (83,25.70) .. controls (95,25.76) and (110,25.78) .. (118,25.78) -- (118,25.63) .. controls (100,25.62) and (88,25.65) .. (83,25.70);
\rclast{11}{4}{5}{110}{25.74}{25.78}
\rpic{pspk}{20}{4}{112}{25.53}{25.7}
\pic at (62,25.55) {poo};
\Wack{118}{25.5}{25.01}
\Wack{118}{25.01}{24.30}
\Wack{118}{24.30}{24.15}
\Wack{118}{24.15}{24.0}
\colaxis{c5}{24}{34}
\lab{c5l1}{199}{32.19}{Ps}
\lab{c5l2}{198}{30.08}{Wb}
\lab{c5l3}{198}{29.45}{Wb}
\lab{c5l4}{201}{28.29}{Ps}
\lab{c5l5}{202}{27.08}{Apcs}
\lab{c5l6}{198}{26.57}{Pb}
\lab{c5l7}{198}{26.13}{Ps}
\lab{c5l8}{197}{25.69}{Clm}
\lab{c5l9}{198}{25.19}{Wb}
\lab{c5l10}{198}{24.56}{Wb}
\fabarat{c5b0}{275}{34.0}
\falabel{c5f1}{275}{32.2}{FA1}
\draw[faarr, shorten <=12pt] (c5f1) -- (c5b0);
\fabarat{c5b1}{275}{30.40}
\draw[faarr, shorten <=11pt] (c5f1) -- (c5b1);
\falabel{c5f2}{275}{29.64}{FA3}
\draw[faarr, shorten <=13pt] (c5f2) -- (c5b1);
\fabarat{c5b2}{275}{29.02}
\draw[faarr, shorten <=11pt] (c5f2) -- (c5b2);
\falabel{c5f3}{275}{28.12}{FA1}
\draw[faarr, shorten <=7pt] (c5f3) -- (c5b2);
\fabarat{c5b3}{275}{26.88}
\draw[faarr, shorten <=10pt] (c5f3) -- (c5b3);
\falabel{c5f4}{275}{26.67}{FA3}
\fabarat{c5b4}{275}{26.45}
\falabel{c5f5}{275}{26.10}{FA1}
\fabarat{c5b5}{275}{25.73}
\draw[faline] (c5f5) -- (c5b4);
\draw[faline] (c5f5) -- (c5b5);
\coordinate (c5e) at (275,24.05);
\draw[faarr] (c5e) -- (c5b5);
\end{scope}
%================ LEGEND
\draw[line width=1.2pt, draw=gray!90] (2,1003) rectangle (1565,1212);
\node[anchor=base west, inner sep=0pt, font=\fontsize{49}{49}\selectfont] (legtitle) at (32,1081) {Legend};
\filldraw[legbox,fill=paleo] (287,1043) rectangle (357,1095);
\filldraw[fill=speckc, line width=0.3pt] (309,1059) ellipse (2.5pt and 3.5pt);
\filldraw[fill=speckc, line width=0.3pt] (341,1083) ellipse (2pt and 4pt);
\node[leglab] (lpal) at (373,1075) {paleosol};
\filldraw[legbox,fill=aren] (571,1040) rectangle (640,1095);
\rpicn{plegdot}{32}{577}{634}{1046}{1089}
\node[leglab] (lare) at (658,1075) {arenite};
\filldraw[legbox,fill=lmud] (891,1039) rectangle (961,1095);
\rpic{pspk}{4}{897}{955}{1045}{1090}
\node[leglab] (llim) at (970,1075) {lime mudstone};
\filldraw[legbox,fill=pack] (1224,1040) rectangle (1294,1095);
\rpic{pspk}{22}{1230}{1290}{1045}{1090}
\rpic{pdot}{10}{1230}{1290}{1045}{1090}
\pic at (1239,1058) {pforam};
\pic at (1239,1082) {pforam};
\pic[rotate=80] at (1281,1078) {pcrin};
\node[leglab] (lpack) at (1310,1075) {packstone};
\filldraw[legbox,fill=dolo] (29,1140) rectangle (99,1196);
\foreach \p in {(47,1158),(75,1158),(47,1184),(75,1184)}{\pic[scale=1.5] at \p {pdolo};}
\node[leglab] (ldol) at (117,1179) {dolostone};
\filldraw[legbox,fill=lshale] (288,1138) rectangle (357,1193);
\node[leglab] (lsha) at (375,1170) {shale};
\filldraw[legbox,fill=legwack] (569,1138) rectangle (639,1193);
\rpic{pspk}{12}{575}{633}{1143}{1188}
\pic[rotate=80] at (603,1160) {pcrin};
\pic at (582,1186) {pblk};
\node[leglab] (lwac) at (654,1170) {wackestone};
\filldraw[legbox,fill=grain] (891,1131) rectangle (960,1187);
\rpic{pspk}{16}{897}{954}{1136}{1182}
\pic at (897,1139) {poo}; \pic at (955,1148) {poo}; \pic at (897,1170) {poo};
\pic at (912,1147) {pforam}; \pic at (943,1163) {pforam}; \pic at (908,1178) {pforam};
\pic[rotate=90] at (926,1142) {pcrin}; \pic[rotate=90] at (946,1176) {pcrin};
\node[leglab] (lgra) at (976,1166) {grainstone};
\filldraw[legbox,fill=white] (1223,1135) rectangle (1293,1191);
\rclast{9}{6}{1232}{1285}{1143}{1184}
\rpic{pblk}{10}{1229}{1288}{1140}{1186}
\node[leglab] (lbre1) at (1312,1152) {breccia/};
\node[leglab] (lbre2) at (1312,1187) {conglomerate};
\end{tikzpicture}
\end{document}
